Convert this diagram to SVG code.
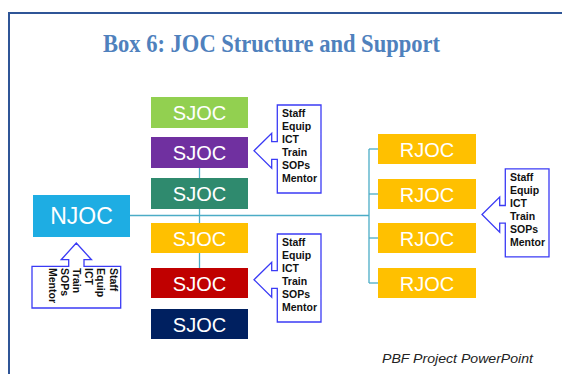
<svg xmlns="http://www.w3.org/2000/svg" width="562" height="374" viewBox="0 0 562 374">
  <style>
    .frame { fill: #ffffff; stroke: #2f5597; stroke-width: 2; }
    .title { font-family: "Liberation Serif", "DejaVu Serif", serif; font-weight: bold; font-size: 25px; fill: #4f81bd; }
    .box-label { font-family: "Liberation Sans", Arial, sans-serif; font-size: 20px; fill: #ffffff; text-anchor: middle; }
    .big-label { font-size: 23px; }
    .wire { stroke: #4bacc6; stroke-width: 1.3; fill: none; }
    .callout { fill: #ffffff; stroke: #3b3bf5; stroke-width: 1.3; stroke-linejoin: miter; }
    .list { font-family: "Liberation Sans", Arial, sans-serif; font-weight: bold; font-size: 10.5px; fill: #111111; }
    .note { font-family: "Liberation Sans", Arial, sans-serif; font-style: italic; font-size: 13px; fill: #222222; }
  </style>
  <defs>
    <!-- left-pointing callout, apex at (0,0) -->
    <path id="left-callout" d="M23.3,-45.7 H67 V42.3 H23.3 V8.6 H17.7 V17.6 L0,0 L17.7,-17.4 V-9 H23.3 Z"/>
  </defs>

  <rect class="frame" x="9" y="13" width="570" height="380"/>
  <text class="title" x="271.5" y="51.7" text-anchor="middle" textLength="337" lengthAdjust="spacingAndGlyphs">Box 6: JOC Structure and Support</text>

  <g id="connectors">
    <line class="wire" x1="130" y1="215.5" x2="369" y2="215.5"/>
    <line class="wire" x1="199.5" y1="168" x2="199.5" y2="268"/>
    <line class="wire" x1="369" y1="149" x2="369" y2="283"/>
    <line class="wire" x1="369" y1="149" x2="378" y2="149"/>
    <line class="wire" x1="369" y1="194" x2="378" y2="194"/>
    <line class="wire" x1="369" y1="238" x2="378" y2="238"/>
    <line class="wire" x1="369" y1="283" x2="378" y2="283"/>
  </g>

  <g id="njoc">
    <rect x="33" y="195" width="97" height="42" fill="#1eade3"/>
    <text class="box-label big-label" x="81.5" y="223.5">NJOC</text>
  </g>

  <g id="sjoc-1">
    <rect x="151" y="97" width="97" height="31" fill="#92d050"/>
    <text class="box-label" x="199.5" y="120">SJOC</text>
  </g>
  <g id="sjoc-2">
    <rect x="151" y="137" width="97" height="31" fill="#7030a0"/>
    <text class="box-label" x="199.5" y="160">SJOC</text>
  </g>
  <g id="sjoc-3">
    <rect x="151" y="178" width="97" height="31" fill="#2f8a6e"/>
    <text class="box-label" x="199.5" y="201">SJOC</text>
  </g>
  <g id="sjoc-4">
    <rect x="151" y="223" width="97" height="30" fill="#ffc000"/>
    <text class="box-label" x="199.5" y="245.5">SJOC</text>
  </g>
  <g id="sjoc-5">
    <rect x="151" y="268" width="97" height="30" fill="#c00000"/>
    <text class="box-label" x="199.5" y="290.5">SJOC</text>
  </g>
  <g id="sjoc-6">
    <rect x="151" y="309" width="97" height="30" fill="#002060"/>
    <text class="box-label" x="199.5" y="331.5">SJOC</text>
  </g>

  <g id="rjoc-1">
    <rect x="378" y="134" width="98" height="30" fill="#ffc000"/>
    <text class="box-label" x="427" y="156.5">RJOC</text>
  </g>
  <g id="rjoc-2">
    <rect x="378" y="179" width="98" height="30" fill="#ffc000"/>
    <text class="box-label" x="427" y="201.5">RJOC</text>
  </g>
  <g id="rjoc-3">
    <rect x="378" y="223" width="98" height="30" fill="#ffc000"/>
    <text class="box-label" x="427" y="245.5">RJOC</text>
  </g>
  <g id="rjoc-4">
    <rect x="378" y="268" width="98" height="30" fill="#ffc000"/>
    <text class="box-label" x="427" y="290.5">RJOC</text>
  </g>

  <g id="support-sjoc-upper">
    <use href="#left-callout" class="callout" x="254" y="150.7"/>
    <text class="list" x="282" y="117">
      <tspan x="282" dy="0">Staff</tspan>
      <tspan x="282" dy="12.9">Equip</tspan>
      <tspan x="282" dy="12.9">ICT</tspan>
      <tspan x="282" dy="12.9">Train</tspan>
      <tspan x="282" dy="12.9">SOPs</tspan>
      <tspan x="282" dy="12.9">Mentor</tspan>
    </text>
  </g>

  <g id="support-sjoc-lower">
    <use href="#left-callout" class="callout" x="254" y="279.7"/>
    <text class="list" x="282" y="246">
      <tspan x="282" dy="0">Staff</tspan>
      <tspan x="282" dy="12.9">Equip</tspan>
      <tspan x="282" dy="12.9">ICT</tspan>
      <tspan x="282" dy="12.9">Train</tspan>
      <tspan x="282" dy="12.9">SOPs</tspan>
      <tspan x="282" dy="12.9">Mentor</tspan>
    </text>
  </g>

  <g id="support-rjoc">
    <use href="#left-callout" class="callout" x="482" y="214.5"/>
    <text class="list" x="510" y="181">
      <tspan x="510" dy="0">Staff</tspan>
      <tspan x="510" dy="12.9">Equip</tspan>
      <tspan x="510" dy="12.9">ICT</tspan>
      <tspan x="510" dy="12.9">Train</tspan>
      <tspan x="510" dy="12.9">SOPs</tspan>
      <tspan x="510" dy="12.9">Mentor</tspan>
    </text>
  </g>

  <g id="support-njoc">
    <path class="callout" d="M76.3,243 L91.5,259.7 H84 V266.3 H120.7 V308 H32 V266.3 H68.7 V259.7 H61.2 Z"/>
    <text class="list" transform="translate(109.5,268) rotate(90)">
      <tspan x="0" y="0">Staff</tspan>
      <tspan x="0" y="12.2">Equip</tspan>
      <tspan x="0" y="24.4">ICT</tspan>
      <tspan x="0" y="36.6">Train</tspan>
      <tspan x="0" y="48.8">SOPs</tspan>
      <tspan x="0" y="61">Mentor</tspan>
    </text>
  </g>

  <text class="note" x="382" y="363.3" textLength="151" lengthAdjust="spacingAndGlyphs">PBF Project PowerPoint</text>
</svg>
